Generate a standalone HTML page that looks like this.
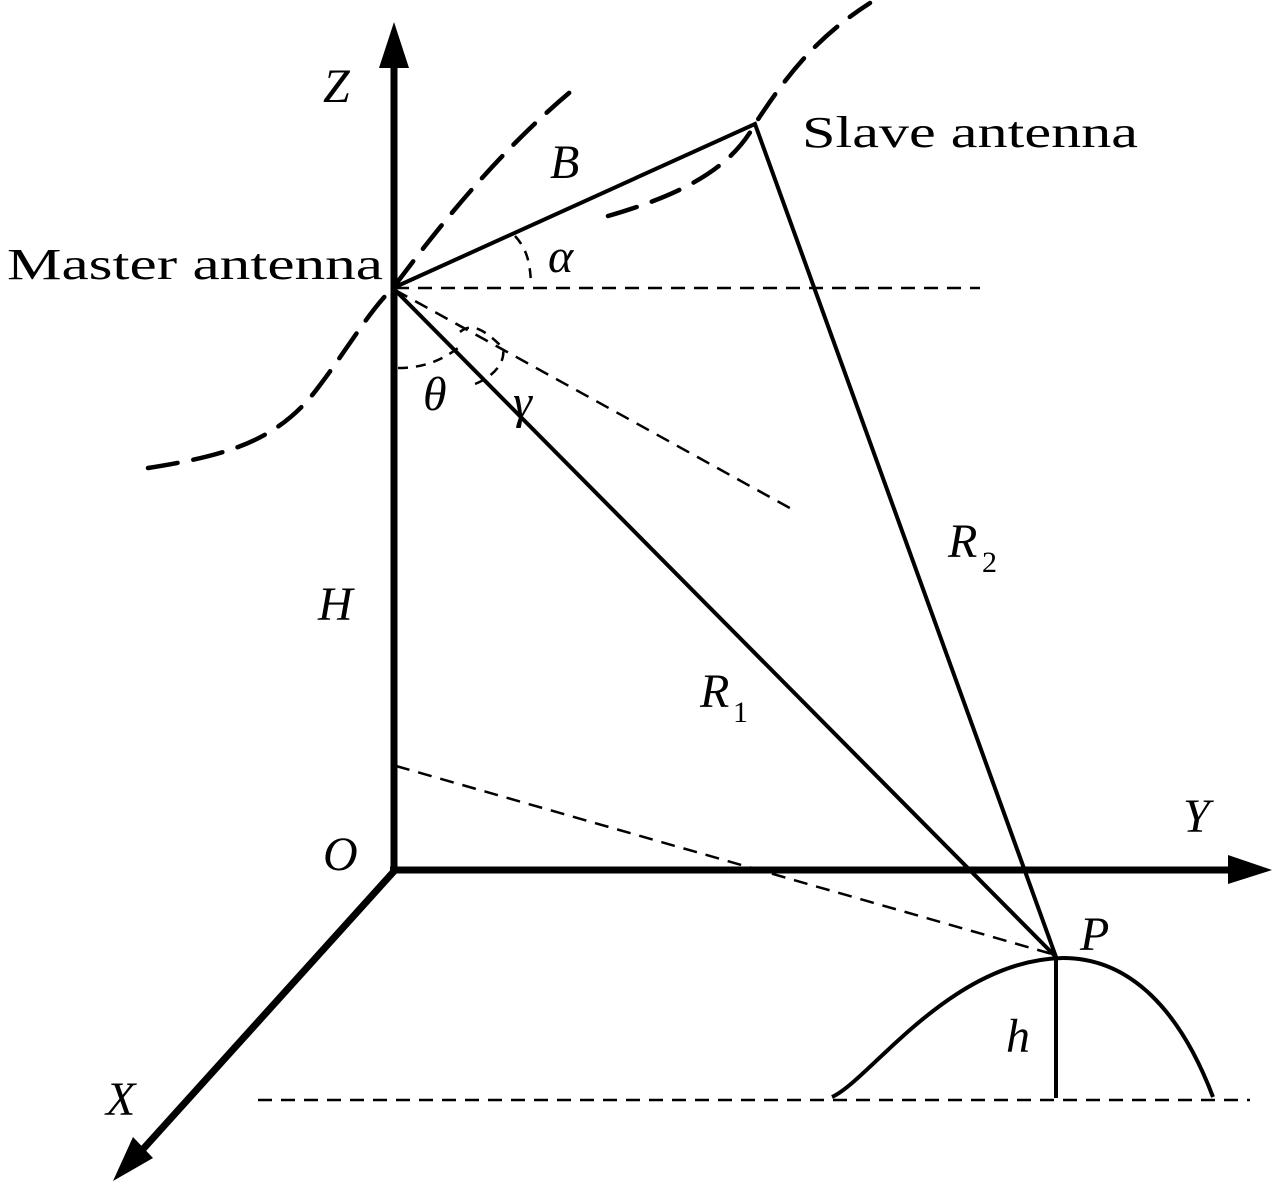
<!DOCTYPE html>
<html><head><style>html,body{margin:0;padding:0;background:#fff}</style></head>
<body>
<svg width="1280" height="1187" viewBox="0 0 1280 1187" xmlns="http://www.w3.org/2000/svg" style="display:block">
<g fill="none" stroke="#000" stroke-linecap="butt">
<line x1="394" y1="873" x2="394" y2="64" stroke-width="7"/>
<line x1="390" y1="870" x2="1232" y2="870" stroke-width="7"/>
<line x1="396" y1="869" x2="135" y2="1158" stroke-width="7"/>
<polyline points="393,288 755,124 1056,957 393,288" stroke-width="4" stroke-linejoin="miter"/>
<g stroke-width="2.5" stroke-dasharray="14,9">
<line x1="395" y1="288" x2="980" y2="288"/>
<line x1="395" y1="290" x2="797" y2="512"/>
<line x1="396" y1="766" x2="1052" y2="954"/>
<line x1="258" y1="1100" x2="1250" y2="1100"/>
</g>
<g stroke-width="4.5" stroke-dasharray="30,16" stroke-linecap="round">
<path d="M148,468 C230,455 280,440 320,385 C350,345 370,310 393,288 C440,225 500,150 575,88"/>
<path d="M608,216 C680,195 730,170 755,124 C790,70 820,35 870,3"/>
</g>
<g stroke-width="2.5" stroke-dasharray="10,8">
<path d="M515,236 C528,250 530,265 531,283"/>
<path d="M398,368 C420,368 440,362 458,348"/>
<path d="M460,332 C472,322 485,330 503,348 C506,365 490,378 475,384"/>
</g>
<path d="M832,1097 C870,1080 950,960 1063,958 C1130,958 1180,1010 1213,1097" stroke-width="4"/>
<line x1="1056" y1="957" x2="1056" y2="1098" stroke-width="4"/>
</g>
<polygon points="394,22 379,68 409,68" fill="#000"/>
<polygon points="1272,870 1228,855 1228,884" fill="#000"/>
<polygon points="113,1181 133,1137 153,1158" fill="#000"/>
<g font-family="Liberation Serif, serif" font-size="44" fill="#000">
<text x="7" y="279" textLength="376" lengthAdjust="spacingAndGlyphs">Master antenna</text>
<text x="802" y="147" textLength="336" lengthAdjust="spacingAndGlyphs">Slave antenna</text>
<g font-style="italic" font-size="48">
<text x="323" y="102">Z</text>
<text x="550" y="178">B</text>
<text x="548" y="272">α</text>
<text x="423" y="410">θ</text>
<text x="513" y="418">γ</text>
<text x="318" y="620">H</text>
<text x="700" y="707">R</text>
<text x="948" y="557">R</text>
<text x="323" y="870">O</text>
<text x="1183" y="832">Y</text>
<text x="1080" y="950">P</text>
<text x="1006" y="1052">h</text>
<text x="106" y="1115">X</text>
</g>
<text x="733" y="722" font-size="30">1</text>
<text x="982" y="572" font-size="30">2</text>
</g>
</svg>
</body></html>
